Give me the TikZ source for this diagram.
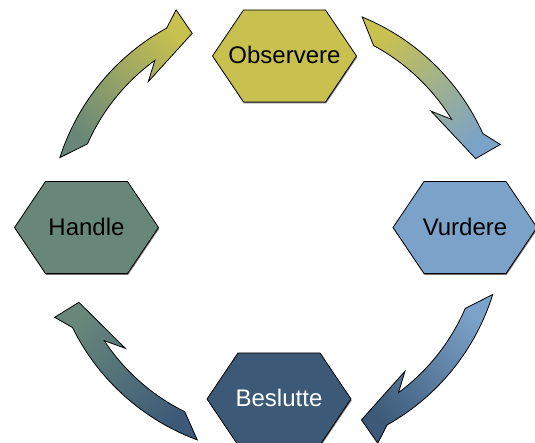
\documentclass[tikz,border=0pt]{standalone}
\usepackage{fontspec}
\setmainfont{Liberation Sans}
\definecolor{cobs}{RGB}{200,193,80}
\definecolor{cvur}{RGB}{123,162,200}
\definecolor{cbes}{RGB}{60,90,120}
\definecolor{chan}{RGB}{104,135,122}
\newcommand\hexat[3]{%
  \path[hexshadow, shift={(#1+0.6,#2-1.4)}] (-72,0) -- (-41,46) -- (41,46) -- (72,0) -- (41,-46) -- (-41,-46) -- cycle;
  \path[hexbox, fill=#3, shift={(#1,#2)}] (-72,0) -- (-41,46) -- (41,46) -- (72,0) -- (41,-46) -- (-41,-46) -- cycle;}
\newcommand\cyclearrow[4]{%
  \shadedraw[arrowbox, top color=#2, bottom color=#3, shading angle=#4, shift={(276,216)}]
    ({67.7+#1}:227) arc[start angle={67.7+#1}, end angle={24.3+#1}, radius=227]
    -- ({20.2+#1}:239) -- ({18.9+#1}:211) -- ({36.8+#1}:193.5) -- ({31.5+#1}:206)
    arc[start angle={31.5+#1}, end angle={61.7+#1}, radius=206] -- cycle;}
\begin{document}
\begin{tikzpicture}[x=1pt,y=1pt,
  hexbox/.style={draw=black, line width=0.8pt, line join=miter},
  hexshadow/.style={fill=black!55},
  arrowbox/.style={draw=black, line width=0.8pt, line join=miter},
  lbl/.style={font=\fontsize{24}{28}\selectfont, inner sep=0pt}]
\useasboundingbox (0,0) rectangle (535,443);
\clip (0,0) rectangle (535,443);
% arrows
\cyclearrow{0}{cobs}{cvur}{45}
\cyclearrow{-85}{cvur}{cbes}{-45}
\cyclearrow{-178}{chan}{cbes}{45}
\cyclearrow{94.5}{cobs}{chan}{-45}
% hexagons
\hexat{284.5}{387}{cobs}
\hexat{465}{215.5}{cvur}
\hexat{279}{44}{cbes}
\hexat{86.5}{215.5}{chan}
\node[lbl, text=black] (obs) at (284.5,388) {Observere};
\node[lbl, text=black] (vur) at (465,216.5) {Vurdere};
\node[lbl, text=white] (bes) at (279,45) {Beslutte};
\node[lbl, text=black] (han) at (86.5,216.5) {Handle};
\end{tikzpicture}
\end{document}
